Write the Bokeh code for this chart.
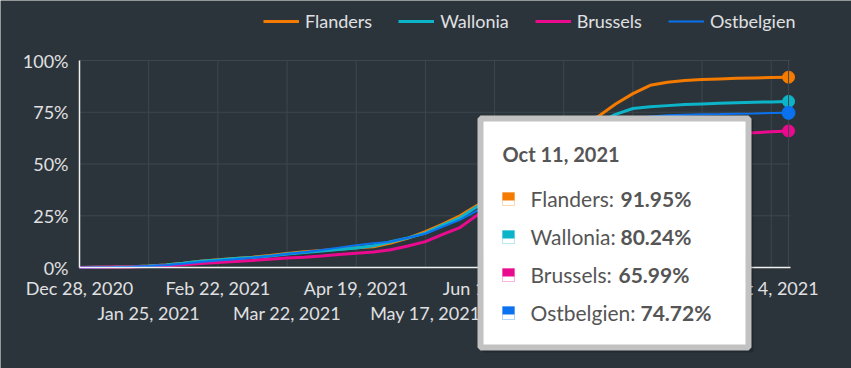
import pandas as pd
from bokeh.plotting import figure
from bokeh.models import (Range1d, FixedTicker, DatetimeAxis, PrintfTickFormatter,
                          Legend, LegendItem, BoxAnnotation, Label)
from bokeh.embed import file_html
from bokeh.resources import INLINE

# ---------------- data ----------------
dates = ["2020-12-28", "2021-01-04", "2021-01-11", "2021-01-18", "2021-01-25", "2021-02-01",
         "2021-02-08", "2021-02-15", "2021-02-22", "2021-03-01", "2021-03-08", "2021-03-15",
         "2021-03-22", "2021-03-29", "2021-04-05", "2021-04-12", "2021-04-19", "2021-04-26",
         "2021-05-03", "2021-05-10", "2021-05-17", "2021-05-24", "2021-05-31", "2021-06-07",
         "2021-06-14", "2021-06-21", "2021-06-28", "2021-07-05", "2021-07-12", "2021-07-19",
         "2021-07-26", "2021-08-02", "2021-08-09", "2021-08-16", "2021-08-23", "2021-08-30",
         "2021-09-06", "2021-09-13", "2021-09-20", "2021-09-27", "2021-10-04", "2021-10-11"]

flanders = [0, 0.1, 0.2, 0.4, 0.7, 1.2, 2.0, 3.0, 3.8, 4.4, 5.0, 5.8, 6.8, 7.6, 8.2, 8.8,
            9.5, 10.0, 11.8, 14.2, 17.3, 21.0, 25.0, 30.0, 36, 44, 52, 59, 64, 68, 73, 79,
            84, 88, 89.5, 90.3, 90.8, 91.1, 91.4, 91.6, 91.8, 91.95]
wallonia = [0, 0.1, 0.2, 0.4, 0.7, 1.2, 2.0, 3.0, 3.6, 4.3, 4.8, 5.5, 6.5, 7.3, 8.0, 8.7,
            9.4, 10.5, 12.4, 14.3, 16.6, 20.5, 24.0, 29.5, 35, 42, 49, 56, 61, 66, 70, 74,
            76.8, 77.6, 78.2, 78.7, 79.0, 79.3, 79.6, 79.8, 80.0, 80.24]
brussels = [0, 0.1, 0.2, 0.3, 0.5, 0.9, 1.3, 1.9, 2.4, 2.9, 3.4, 4.0, 4.6, 5.0, 5.5, 6.3,
            6.9, 7.5, 8.6, 10.4, 12.5, 16.0, 19.3, 25.3, 29, 34, 39, 44, 48, 51, 54, 56.5,
            58.5, 60, 61.5, 62.5, 63.3, 64, 64.6, 65.1, 65.6, 65.99]
ostbelgien = [0, 0.1, 0.2, 0.4, 0.7, 1.1, 1.8, 2.6, 3.4, 4.0, 4.7, 5.5, 6.5, 7.4, 8.4, 9.6,
              10.8, 11.7, 12.5, 14.4, 16.3, 19.7, 23.0, 27.5, 32, 39, 46, 53, 58, 63, 67, 70,
              72, 73, 73.5, 73.8, 74.0, 74.1, 74.3, 74.4, 74.6, 74.72]

series_names = ["Flanders", "Wallonia", "Brussels", "Ostbelgien"]
series_values = [flanders, wallonia, brussels, ostbelgien]
series_colors = ["#f57a00", "#0bb4c9", "#ea0a8e", "#0a72ee"]
series_widths = [3, 3, 3, 2]

tick_dates = ["2020-12-28", "2021-01-25", "2021-02-22", "2021-03-22", "2021-04-19", "2021-05-17",
              "2021-06-14", "2021-07-12", "2021-08-09", "2021-09-06", "2021-10-04"]
tick_labels = ["Dec 28, 2020", "Jan 25, 2021", "Feb 22, 2021", "Mar 22, 2021", "Apr 19, 2021",
               "May 17, 2021", "Jun 14, 2021", "Jul 12, 2021", "Aug 9, 2021", "Sep 6, 2021",
               "Oct 4, 2021"]
y_ticks = [0, 25, 50, 75, 100]
tooltip_title = "Oct 11, 2021"

# ---------------- layout constants (pixels) ----------------
W, H = 851, 368
PLOT_L, PLOT_R, PLOT_T, PLOT_B = 79, 790, 60, 267   # where the 0..100 % area sits
BG = "#2b343a"
TXT = "#e0e0e3"
GRID = "#3d474d"
FONT = "Lato"

x = pd.to_datetime(dates)
x_end = x[-1] + pd.Timedelta(hours=19)           # end of the drawn axis
tick_ms = [int(pd.Timestamp(d).value // 10**6) for d in tick_dates]
even_ms = tick_ms[0::2]
odd_ms = tick_ms[1::2]
x0_ms = int(x[0].value // 10**6)
x_end_ms = int(x_end.value // 10**6)

px_per_ms = (PLOT_R - PLOT_L) / (x_end_ms - x0_ms)
px_per_pct = (PLOT_B - PLOT_T) / (y_ticks[-1] - y_ticks[0])

p = figure(width=W, height=H, x_axis_type="datetime", output_backend="svg",
           toolbar_location=None, min_border_left=0, min_border_right=0,
           min_border_top=0, min_border_bottom=0)
p.x_range = Range1d(start=x0_ms - PLOT_L / px_per_ms, end=x0_ms + (W - PLOT_L) / px_per_ms)
p.y_range = Range1d(start=y_ticks[0] - (H - PLOT_B) / px_per_pct,
                    end=y_ticks[-1] + PLOT_T / px_per_pct)
p.background_fill_color = BG
p.border_fill_color = BG
p.outline_line_color = None
p.xgrid.visible = False
p.ygrid.visible = False

# y axis, pinned at the first date
yax = p.yaxis[0]
yax.fixed_location = x0_ms
yax.ticker = FixedTicker(ticks=y_ticks)
yax.formatter = PrintfTickFormatter(format="%d%%")
yax.bounds = (y_ticks[0], y_ticks[-1])
yax.axis_line_color = "#f0f0f0"
yax.axis_line_width = 1.5
yax.major_tick_line_color = None
yax.minor_tick_line_color = None
yax.major_label_text_color = TXT
yax.major_label_text_font = FONT
yax.major_label_text_font_size = "18px"
yax.major_label_standoff = 5

# x axes (two staggered rows of labels), pinned at 0 %
xax = p.xaxis[0]
xax.fixed_location = y_ticks[0]
xax.bounds = (x0_ms, x_end_ms)
xax.ticker = FixedTicker(ticks=even_ms)
xax.major_label_overrides = {ms: lab for ms, lab in zip(tick_ms, tick_labels) if ms in even_ms}
ax2 = DatetimeAxis(ticker=FixedTicker(ticks=odd_ms), fixed_location=y_ticks[0])
ax2.major_label_overrides = {ms: lab for ms, lab in zip(tick_ms, tick_labels) if ms in odd_ms}
ax2.axis_line_color = None
p.add_layout(ax2, "below")
for ax, standoff in ((xax, 3), (ax2, 28)):
    ax.major_tick_line_color = None
    ax.minor_tick_line_color = None
    ax.major_label_text_color = TXT
    ax.major_label_text_font = FONT
    ax.major_label_text_font_size = "18px"
    ax.major_label_standoff = standoff
xax.axis_line_color = "#f0f0f0"
xax.axis_line_width = 1.5

# grid lines restricted to the 0..100 % area
tick_x = pd.to_datetime(tick_dates)
p.segment(x0=tick_x, y0=[y_ticks[0]] * len(tick_x), x1=tick_x, y1=[y_ticks[-1]] * len(tick_x),
          line_color=GRID, line_width=1)
p.segment(x0=[x[0]] * len(y_ticks), y0=y_ticks, x1=[x_end] * len(y_ticks), y1=y_ticks,
          line_color=GRID, line_width=1)

# lines
renderers = []
for name, vals, col, w in zip(series_names, series_values, series_colors, series_widths):
    r = p.line(x, vals, line_color=col, line_width=w)
    renderers.append(r)

# end markers (hovered point on top, crosshair through the others)
for vals, col in zip(series_values[:3], series_colors[:3]):
    p.scatter([x[-1]], [vals[-1]], size=12, fill_color=col, line_color=col)
p.segment(x0=[x[-1]], y0=[y_ticks[0]], x1=[x[-1]], y1=[y_ticks[-1]],
          line_color="#3f484e", line_width=1)
p.scatter([x[-1]], [series_values[3][-1]], size=13, fill_color=series_colors[3],
          line_color=series_colors[3])

# frame-relative screen coordinates (frame fills the canvas)
def sx(X):
    return X
def sy(Y):
    return H - Y

# legend
legend = Legend(items=[LegendItem(label=n, renderers=[r]) for n, r in zip(series_names, renderers)],
                orientation="horizontal", location=(sx(263), sy(32)), padding=0, margin=0,
                spacing=26, label_standoff=6, glyph_width=36, glyph_height=20,
                label_text_font=FONT, label_text_font_size="18px", label_text_color=TXT,
                background_fill_alpha=0, border_line_color=None)
p.add_layout(legend)

# tooltip
def box(l, r, t, b, **kw):
    p.add_layout(BoxAnnotation(left=sx(l), right=sx(r), top=sy(t), bottom=sy(b),
                               left_units="screen", right_units="screen", top_units="screen",
                               bottom_units="screen", **kw))

box(482, 753, 119, 352, fill_color="black", fill_alpha=0.18, line_color=None)
box(480, 748, 118, 347, fill_color="white", fill_alpha=1, line_color="#c2c2c2",
    line_width=6, line_alpha=1)

p.add_layout(Label(x=sx(502), y=sy(153), x_units="screen", y_units="screen", text=tooltip_title,
                   text_font=FONT, text_font_size="20px", text_font_style="bold",
                   text_color="#555555", text_baseline="middle", text_align="left"))

row_y = [198, 236, 274, 312]
val_x = [620, 620, 618, 640]
for name, vals, col, yy, vx in zip(series_names, series_values, series_colors, row_y, val_x):
    box(502, 514, yy - 6, yy + 7, fill_color="white", fill_alpha=1,
        line_color=col, line_alpha=0.3, line_width=1)
    box(502, 514, yy - 6, yy + 2, fill_color=col, fill_alpha=1, line_color=None)
    p.add_layout(Label(x=sx(530), y=sy(yy), x_units="screen", y_units="screen", text=f"{name}:",
                       text_font=FONT, text_font_size="21px", text_color="#555555",
                       text_baseline="middle", text_align="left"))
    p.add_layout(Label(x=sx(vx), y=sy(yy), x_units="screen", y_units="screen",
                       text=f"{vals[-1]:.2f}%", text_font=FONT, text_font_size="21px",
                       text_font_style="bold", text_color="#555555",
                       text_baseline="middle", text_align="left"))

open("out.html", "w").write(file_html(p, INLINE))
